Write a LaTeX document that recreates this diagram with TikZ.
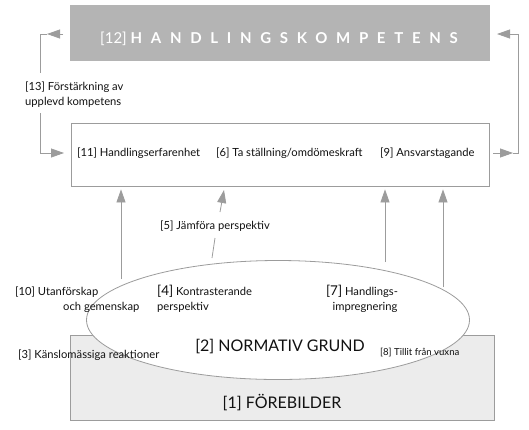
\documentclass[tikz,border=0pt]{standalone}
\usepackage{fontspec}
\setmainfont{Lato}
\newfontfamily\spacedfont[LetterSpace=58]{Lato}
\usetikzlibrary{arrows.meta,shapes.geometric}
\definecolor{linegray}{HTML}{9C9C9C}
\definecolor{topgray}{HTML}{B4B4B4}
\definecolor{basegray}{HTML}{ECECEC}
\definecolor{txt}{HTML}{111111}
\newcommand{\bignum}[1]{{\fontsize{13.5}{13.5}\selectfont #1}}

\begin{document}
\begin{tikzpicture}[
    x=1pt, y=-1pt,
    font=\fontsize{11.2}{15}\selectfont,
    >={Triangle[length=13pt,width=9pt]},
    box/.style={draw=linegray, line width=0.8pt, minimum width=#1},
    lab/.style={inner sep=0pt, text=txt, align=left},
    big/.style={inner sep=0pt, text=txt, font=\fontsize{16}{16}\selectfont},
    sig/.style={->, line width=0.8pt, linegray},
    wire/.style={line width=0.8pt, linegray},
  ]
  \useasboundingbox (0,0) rectangle (529,429);

  %% ---- boxes ---------------------------------------------------------
  \node[box=419pt, fill=topgray, draw=topgray, minimum height=55pt]
    (hk) at (279.5,32.5) {};
  \node[inner sep=0pt, text=white, font=\fontsize{15}{15}\selectfont]
    (hkt) at (279,39) {[12]\ {\spacedfont\bfseries HANDLINGSKOMPETENS}};
  \node[box=418pt, fill=white, minimum height=63pt] (lo) at (280,154.5) {};
  \node[box=424pt, fill=basegray, minimum height=85pt] (fb) at (282,377.5) {};
  \node[ellipse, draw=linegray, line width=0.8pt, fill=white, inner sep=0pt,
        minimum width=383pt, minimum height=119pt] (gr) at (278,320) {};

  %% ---- texts ---------------------------------------------------------
  \node[lab, anchor=west] (he) at (77,153)  {[11] Handlingserfarenhet};
  \node[lab, anchor=west] (ts) at (216,153) {[6] Ta ställning/omdömeskraft};
  \node[lab, anchor=west] (an) at (380,153) {[9] Ansvarstagande};
  \node[lab, anchor=west] (fo) at (25,95)
    {[13] Förstärkning av\\upplevd kompetens};
  \node[lab] (jp) at (215,226) {[5] Jämföra perspektiv};
  \node[lab, anchor=west] (ut) at (15,300)
    {[10] Utanförskap\\\hspace*{48pt}och gemenskap};
  \node[lab, anchor=west] (kp) at (157,299)
    {\bignum{[4]} Kontrasterande\\perspektiv};
  \node[lab, align=center] (hi) at (362,299)
    {\bignum{[7]} Handlings-\\\hspace*{6pt}impregnering};
  \node[big] (ng) at (280,347) {[2] NORMATIV GRUND};
  \node[lab, anchor=west] (kr) at (18,355) {[3] Känslomässiga reaktioner};
  \node[lab, anchor=west, font=\fontsize{9.6}{11}\selectfont]
    (tv) at (380,353) {[8] Tillit från vuxna};
  \node[big] (fr) at (282,403) {[1] FÖREBILDER};

  %% ---- feedback loop round the two boxes -----------------------------
  \coordinate (lt1) at (63,34);
  \coordinate (lt2) at (47,34);
  \coordinate (lc1) at (40,73);
  \coordinate (lc2) at (40,113);
  \coordinate (lb)  at (64,153);
  \draw[sig]  (lt1) -- (lt2);
  \draw[wire] (lt2) -| (lc1);
  \draw[sig]  (lc2) |- (lb);

  \coordinate (rb1) at (493,153);
  \coordinate (rb2) at (513,153);
  \coordinate (rc)  at (518,34);
  \coordinate (rt)  at (497,34);
  \draw[sig] (rb1) -- (rb2);
  \draw[sig] (rb2) -| (rc) -- (rt);

  %% ---- from the ground up to the box ---------------------------------
  \coordinate (u10) at (121,279);
  \coordinate (u7)  at (385,262);
  \coordinate (u8)  at (443,287);
  \draw[sig, shorten >=3pt] (u10) -- (u10 |- lo.south);
  \draw[sig, shorten >=3pt] (u7)  -- (u7 |- lo.south);
  \draw[sig, shorten >=3pt] (u8)  -- (u8 |- lo.south);

  \coordinate (j1) at (212,258);
  \coordinate (j2) at (215,238);
  \coordinate (j3) at (220,212);
  \coordinate (j4) at (224,190);
  \draw[wire] (j1) -- (j2);
  \draw[sig]  (j3) -- (j4);

\end{tikzpicture}
\end{document}
